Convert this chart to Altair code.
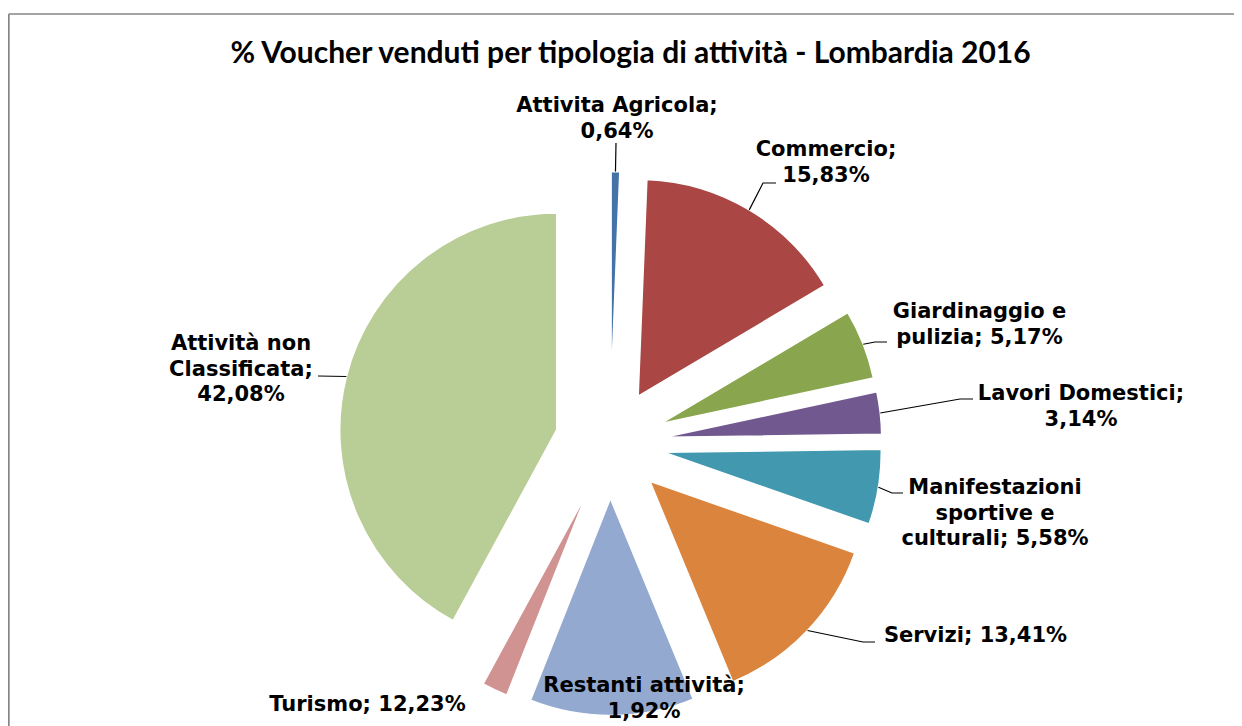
import math
import altair as alt
import pandas as pd

# ---------------- data ----------------
categories = [
    "Attivita Agricola", "Commercio", "Giardinaggio e pulizia", "Lavori Domestici",
    "Manifestazioni sportive e culturali", "Servizi", "Restanti attività", "Turismo",
    "Attività non Classificata",
]
# slice sizes (%), clockwise from 12 o'clock
shares = [0.64, 15.83, 5.17, 3.14, 5.58, 13.41, 12.23, 1.92, 42.08]
# label texts exactly as printed on the chart
label_texts = [
    "Attivita Agricola;\n0,64%",
    "Commercio;\n15,83%",
    "Giardinaggio e\npulizia; 5,17%",
    "Lavori Domestici;\n3,14%",
    "Manifestazioni\nsportive e\nculturali; 5,58%",
    "Servizi; 13,41%",
    "Restanti attività;\n1,92%",
    "Turismo; 12,23%",
    "Attività non\nClassificata;\n42,08%",
]
title_text = "% Voucher venduti per tipologia di attività - Lombardia 2016"

# ---------------- style ----------------
colors = ["#4572A7", "#AA4643", "#89A54E", "#71588F", "#4198AF",
          "#DB843D", "#93A9CF", "#D19392", "#B9CD96"]
W, H = 1226, 718
CX, CY = 602, 435.5          # pie centre (chart coordinates)
R = 217                      # pie radius
EXPLODE = 55                 # explosion distance
# label anchor (centre of first line baseline) relative to pie centre
label_offsets = [(7, -331.5), (216, -287.5), (369.5, -125.5), (471, -43.5),
                 (385, 50.5), (365.5, 198.5), (34, 248.5), (-242.5, 267.5),
                 (-369, -93.5)]
# leader lines: elbow offset and horizontal tick length (None = no leader)
leader_elbows = [((6, -300.5), 0), ((153, -260.5), 13), ((265, -101.5), 12),
                 ((350, -44.5), 13), ((282, 49.5), 11), ((253, 198.5), 12),
                 None, None, ((-292, -67.5), 0)]
FONT_LABEL = "DejaVu Sans"
FONT_TITLE = "Lato"

df = pd.DataFrame({"idx": range(len(categories)), "cat": categories, "share": shares})

arcs = alt.Chart(df).transform_window(
    cum="sum(share)", sort=[alt.SortField("idx")]
).transform_calculate(
    t0="(datum.cum - datum.share) / 100 * 2 * PI",
    t1="datum.cum / 100 * 2 * PI",
).transform_calculate(
    mid="(datum.t0 + datum.t1) / 2"
).transform_calculate(
    px=f"{CX} + {EXPLODE} * sin(datum.mid)",
    py=f"{CY} - {EXPLODE} * cos(datum.mid)",
).mark_arc(outerRadius=R, stroke="white", strokeWidth=1.5).encode(
    theta=alt.Theta("t0:Q", scale=None, stack=None),
    theta2="t1:Q",
    x=alt.X("px:Q", scale=None, axis=None),
    y=alt.Y("py:Q", scale=None, axis=None),
    color=alt.Color("cat:N", scale=alt.Scale(domain=categories, range=colors), legend=None),
)

# labels
lab = pd.DataFrame({
    "txt": label_texts,
    "lx": [CX + o[0] for o in label_offsets],
    "ly": [CY + o[1] for o in label_offsets],
})
labels = alt.Chart(lab).mark_text(
    font=FONT_LABEL, fontWeight="bold", fontSize=21, lineHeight=25.5,
    align="center", baseline="alphabetic", lineBreak="\n", color="#000000",
).encode(
    x=alt.X("lx:Q", scale=None, axis=None),
    y=alt.Y("ly:Q", scale=None, axis=None),
    text="txt:N",
)

# leader lines: start on slice edge at the slice's mid angle
rows = []
cum = 0.0
for i, s in enumerate(shares):
    mid = (cum + s / 2) / 100 * 2 * math.pi
    cum += s
    le = leader_elbows[i]
    if le is None:
        continue
    (ex, ey), tick = le
    ax_ = CX + (R + EXPLODE) * math.sin(mid)
    ay_ = CY - (R + EXPLODE) * math.cos(mid)
    bx, by = CX + ex, CY + ey
    sign = 1 if ex >= 0 else -1
    pts = [(ax_, ay_), (bx, by)]
    if tick:
        pts.append((bx + sign * tick, by))
    for k, (x, y) in enumerate(pts):
        rows.append({"cat": categories[i], "k": k, "x": x, "y": y})
lead = pd.DataFrame(rows)
leaders = alt.Chart(lead).mark_line(color="#000000", strokeWidth=1.2).encode(
    x=alt.X("x:Q", scale=None, axis=None),
    y=alt.Y("y:Q", scale=None, axis=None),
    detail="cat:N",
    order="k:Q",
)

one = pd.DataFrame({"a": [0]})
title = alt.Chart(one).mark_text(
    text=title_text, font=FONT_TITLE, fontWeight="bold", fontSize=30,
    align="center", baseline="alphabetic", color="#000000",
).encode(x=alt.value(622.5), y=alt.value(55.3))

border_top = alt.Chart(one).mark_rule(stroke="#868686", strokeWidth=1.5).encode(
    x=alt.value(0.8), x2=alt.value(W), y=alt.value(6)
)
border_left = alt.Chart(one).mark_rule(stroke="#868686", strokeWidth=1.8).encode(
    x=alt.value(0.8), y=alt.value(6), y2=alt.value(H)
)

chart = alt.layer(border_top, border_left, arcs, leaders, labels, title).properties(
    width=W, height=H, padding=0, autosize="none"
).configure_view(stroke=None)

chart.save("out.html", embed_options={"renderer": "svg", "actions": False})
